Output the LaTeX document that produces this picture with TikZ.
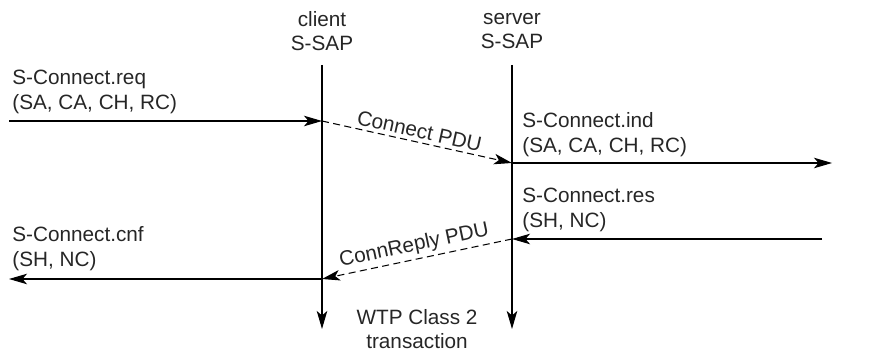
\documentclass[tikz,border=0pt]{standalone}
\usepackage{fontspec}
\setmainfont{Liberation Sans}
\usepackage{tikz}
\usetikzlibrary{arrows.meta,positioning}
\newcommand{\sapfont}{\fontsize{11.8}{14}\selectfont}

\begin{document}
\begin{tikzpicture}[x=0.2mm,y=-0.2mm,every node/.style={font=\sapfont,text=black!85},
    head/.style={align=center,inner sep=0pt},
    prim/.style={align=left,inner sep=0pt},
    sig/.style={-{Stealth[length=3.6mm,width=2.1mm,inset=0.9mm]},line width=0.6pt},
    pdu/.style={sig,dash pattern=on 4pt off 2.5pt}]
  \useasboundingbox (0,0) rectangle (873,353);
  % service access points
  \node[head] (cli) at (322,31) {client\\S-SAP};
  \node[head] (srv) at (512,31) {server\\S-SAP};
  \coordinate (cliTop) at (322,65);
  \coordinate (cliEnd) at (322,329);
  \coordinate (srvTop) at (512,65);
  \coordinate (srvEnd) at (512,329);
  \draw[sig] (cliTop) -- (cliEnd);
  \draw[sig] (srvTop) -- (srvEnd);
  % message points
  \coordinate (reqA) at (9,121);
  \coordinate (reqB) at (322,121);
  \coordinate (indA) at (512,163);
  \coordinate (indB) at (832,163);
  \coordinate (resA) at (822,239);
  \coordinate (resB) at (512,239);
  \coordinate (cnfA) at (322,279);
  \coordinate (cnfB) at (9,279);
  % request / indication
  \draw[sig] (reqA) -- (reqB);
  \node[prim,above right=1.4mm and 0.6mm of reqA] (req) {S-Connect.req\\(SA, CA, CH, RC)};
  \draw[pdu] (reqB) -- node[sloped,above,inner sep=2pt] (conpdu) {Connect PDU} (indA);
  \draw[sig] (indA) -- (indB);
  \node[prim,above right=1.2mm and 2mm of indA] (ind) {S-Connect.ind\\(SA, CA, CH, RC)};
  % response / confirm
  \draw[sig] (resA) -- (resB);
  \node[prim,above right=1.4mm and 2mm of resB] (res) {S-Connect.res\\(SH, NC)};
  \draw[pdu] (resB) -- node[sloped,above,inner sep=2pt] (reppdu) {ConnReply PDU} (cnfA);
  \draw[sig] (cnfA) -- (cnfB);
  \node[prim,above right=1.6mm and 0.6mm of cnfB] (cnf) {S-Connect.cnf\\(SH, NC)};
  \node[head] (wtp) at (417,329) {WTP Class 2\\transaction};
\end{tikzpicture}
\end{document}
